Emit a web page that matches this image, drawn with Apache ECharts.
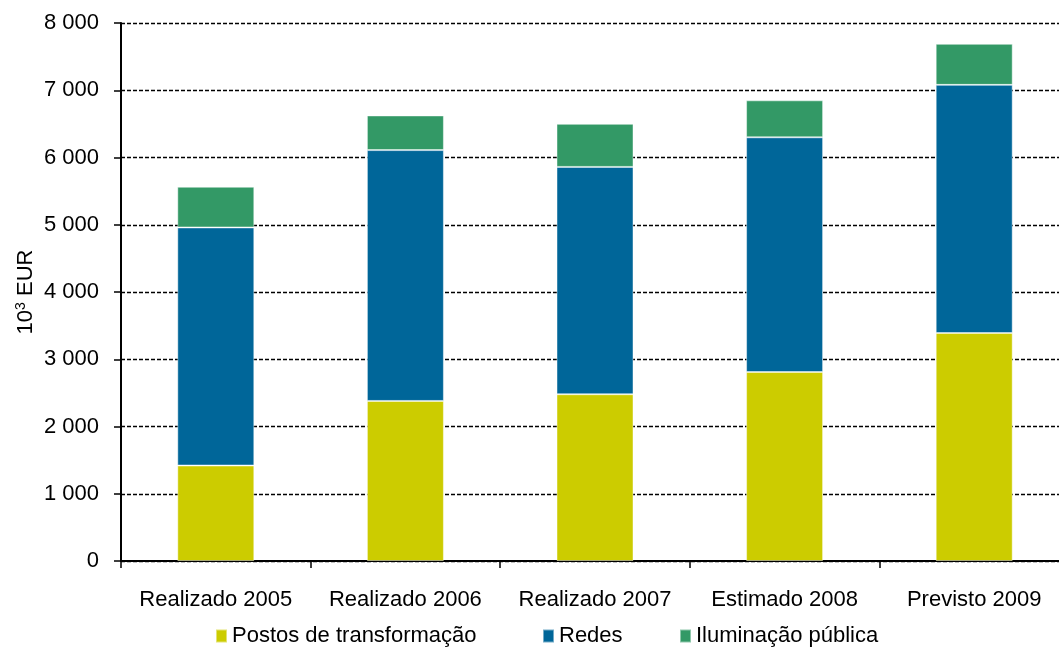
<!DOCTYPE html>
<html>
<head>
<meta charset="utf-8">
<script src="https://cdn.jsdelivr.net/npm/echarts@6/dist/echarts.min.js"></script>
<style>
  html, body { margin: 0; padding: 0; background: #fff; overflow: hidden; }
  /* the plot area runs slightly past the right edge of the window */
  #chart { width: 1069px; height: 648px; }
</style>
</head>
<body>
<div id="chart"></div>
<script>
// Investment per year, in thousands of euros (10^3 EUR)
const categories = ['Realizado 2005', 'Realizado 2006', 'Realizado 2007', 'Estimado 2008', 'Previsto 2009'];
const postos = [1420, 2380, 2480, 2810, 3390];
const redes = [3540, 3730, 3380, 3490, 3690];
const iluminacao = [605, 515, 640, 550, 610];
const seriesNames = ['Postos de transformação', 'Redes', 'Iluminação pública'];
const seriesColors = ['#CCCC00', '#006699', '#339966'];

const FONT = 'Liberation Sans, Arial, sans-serif';
const thousands = v => String(v).replace(/\B(?=(\d{3})+(?!\d))/g, ' ');

const chart = echarts.init(document.getElementById('chart'), null, { renderer: 'canvas' });

function legendAt(name, left) {
  return {
    data: [name],
    left: left,
    top: 620,
    itemWidth: 11,
    itemHeight: 13,
    itemGap: 0,
    icon: 'rect',
    textStyle: { fontFamily: FONT, fontSize: 22, color: '#000', padding: [0, 0, 0, 0] },
    selectedMode: false
  };
}

const barStyle = color => ({
  color: color,
  borderColor: 'rgba(255,255,255,0.45)',
  borderWidth: 1
});

chart.setOption({
  animation: false,
  backgroundColor: '#fff',
  grid: { left: 121, top: 23, right: 0, bottom: 87, containLabel: false },
  legend: [
    legendAt(seriesNames[0], 210),
    legendAt(seriesNames[1], 537),
    legendAt(seriesNames[2], 674)
  ],
  xAxis: {
    type: 'category',
    data: categories,
    axisLine: { show: true, lineStyle: { color: '#000', width: 2 } },
    axisTick: { show: true, length: 7, lineStyle: { color: '#000', width: 1.5 } },
    axisLabel: { interval: 0, margin: 28, fontFamily: FONT, fontSize: 22, color: '#000' },
    splitLine: { show: false }
  },
  yAxis: {
    type: 'value',
    min: 0,
    max: 8000,
    interval: 1000,
    name: '10{sup|3} EUR',
    nameLocation: 'middle',
    nameRotate: 90,
    nameGap: 84,
    nameMoveOverlap: false,
    nameTextStyle: {
      fontFamily: FONT, fontSize: 22, color: '#000',
      rich: { sup: { fontFamily: FONT, fontSize: 14, color: '#000', verticalAlign: 'top', padding: [0, 0, 9, 0] } }
    },
    axisLine: { show: true, lineStyle: { color: '#000', width: 2 } },
    axisTick: { show: true, length: 7, lineStyle: { color: '#000', width: 1.5 } },
    axisLabel: { margin: 22, fontFamily: FONT, fontSize: 22, color: '#000', formatter: v => thousands(v) },
    splitLine: { show: true, lineStyle: { color: '#000', width: 1.3, type: [4, 2] } }
  },
  series: [
    { name: seriesNames[0], type: 'bar', stack: 'total', barWidth: 77, data: postos, itemStyle: barStyle(seriesColors[0]) },
    { name: seriesNames[1], type: 'bar', stack: 'total', barWidth: 77, data: redes, itemStyle: barStyle(seriesColors[1]) },
    { name: seriesNames[2], type: 'bar', stack: 'total', barWidth: 77, data: iluminacao, itemStyle: barStyle(seriesColors[2]) }
  ]
});
</script>
</body>
</html>
